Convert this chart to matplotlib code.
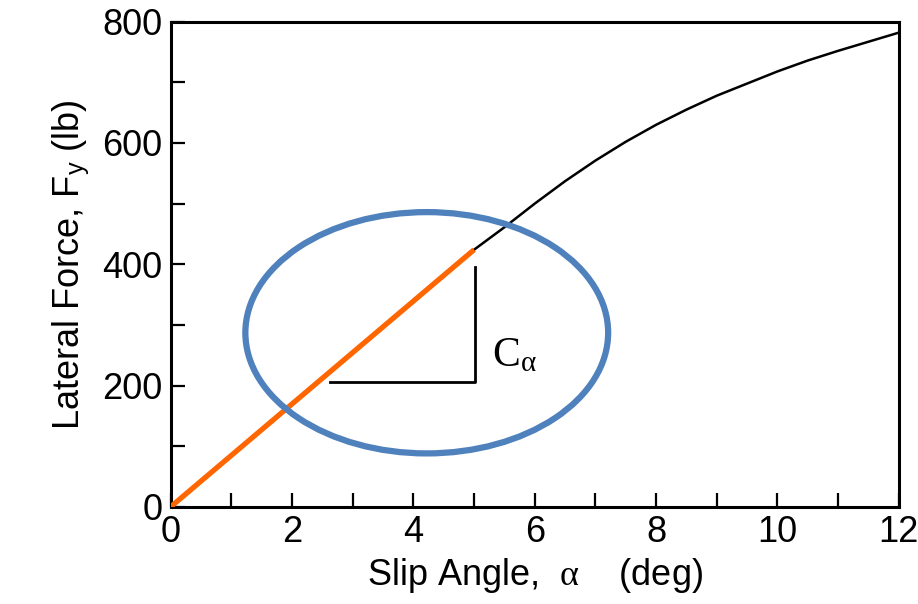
import matplotlib.pyplot as plt
from matplotlib.patches import Ellipse

plt.rcParams.update({
    "font.family": ["Liberation Sans", "DejaVu Sans"],
    "mathtext.fontset": "custom",
    "mathtext.rm": "Liberation Serif",
    "mathtext.it": "Liberation Serif:italic",
    "mathtext.sf": "Liberation Sans",
    "font.size": 26,
})

# Lateral force vs slip angle (lb, deg)
slip_angle = [0, 1, 2, 3, 4, 5, 5.5, 6, 6.5, 7, 7.5, 8, 8.5, 9, 9.5, 10, 10.5, 11, 11.5, 12]
lateral_force = [0, 85, 170, 254, 339, 424, 461, 500, 537, 571, 602, 630, 655, 678, 698, 718, 736, 752, 767, 782]

# Linear region used for cornering stiffness
linear_angle = [0, 5]
linear_force = [0, 424]

# Slope triangle corners
tri_x = [2.62, 5.01, 5.01]
tri_y = [206, 206, 396]

x_ticks = [0, 2, 4, 6, 8, 10, 12]
y_ticks = [0, 200, 400, 600, 800]

fig = plt.figure(figsize=(9.18, 6.04), dpi=100)
ax = fig.add_axes([0.186, 0.161, 0.793, 0.803])

ax.plot(slip_angle, lateral_force, color="black", lw=1.8, zorder=2)
ax.plot(linear_angle, linear_force, color="#FF6600", lw=3.8,
        solid_capstyle="butt", zorder=3)
ax.plot(tri_x, tri_y, color="black", lw=2.0, zorder=2)
ax.text(5.3, 250, r"$\mathrm{C}_{\mathrm{\alpha}}$", fontsize=30, va="center", ha="left")

ax.add_patch(Ellipse((4.22, 287), 5.98, 398, fill=False,
                     edgecolor="#4F81BD", lw=4.5, zorder=4, clip_on=False))

ax.set_xlim(0, 12)
ax.set_ylim(0, 800)
ax.set_xticks(range(0, 13))
ax.set_xticklabels([str(t) if t in x_ticks else "" for t in range(0, 13)])
ax.set_yticks(range(0, 801, 100))
ax.set_yticklabels([str(t) if t in y_ticks else "" for t in range(0, 801, 100)])
ax.tick_params(direction="in", length=10, width=1.6, pad=6, labelsize=26)

for s in ax.spines.values():
    s.set_linewidth(2.2)

ax.set_xlabel(r"Slip Angle,  $\mathrm{\alpha}$    (deg)", fontsize=26, labelpad=4)
ax.set_ylabel(r"Lateral Force, F$_{\mathsf{y}}$ (lb)", fontsize=26, labelpad=8)

fig.savefig("out.png", dpi=100)
